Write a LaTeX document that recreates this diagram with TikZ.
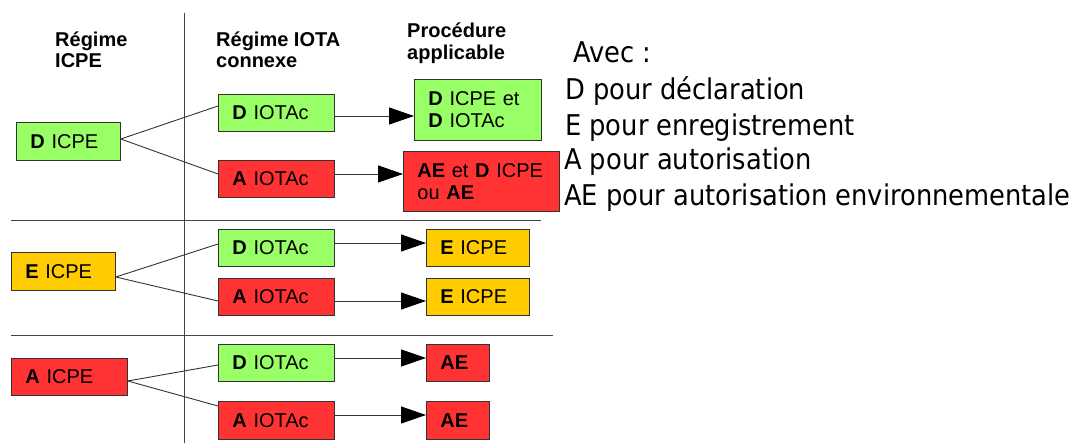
\documentclass[tikz,border=0pt]{standalone}
\usepackage{fontspec}
\setmainfont{Liberation Sans}
\newfontfamily\legendfont[FakeStretch=0.9]{DejaVu Sans}
\usetikzlibrary{arrows.meta}
\definecolor{boxgreen}{HTML}{99FF66}
\definecolor{boxred}{HTML}{FF3333}
\definecolor{boxyellow}{HTML}{FFCC00}
\definecolor{edgecol}{HTML}{333333}
\definecolor{rulecol}{HTML}{444444}
\tikzset{
  box/.style={draw=edgecol, line width=0.8pt, anchor=north west, inner xsep=14pt,
    inner ysep=0pt, align=left, font=\fontsize{20}{22}\selectfont},
  bsize/.style n args={3}{minimum width=#1pt, minimum height=#2pt, text width=#3pt},
  green/.style={fill=boxgreen},
  red/.style={fill=boxred},
  yellow/.style={fill=boxyellow},
  link/.style={draw=edgecol, line width=0.9pt},
  flow/.style={draw=edgecol, line width=0.9pt, -{Triangle[length=25pt,width=17pt,fill=black,color=black]}},
  rule/.style={draw=rulecol, line width=1pt},
  head/.style={anchor=base west, inner sep=0pt, font=\fontsize{20}{21}\selectfont\bfseries},
  legend/.style={anchor=base west, inner sep=0pt, font=\legendfont\fontsize{28.6}{34}\selectfont}
}
\begin{document}
\begin{tikzpicture}[x=1pt,y=-1pt]
\useasboundingbox (0,0) rectangle (1075,443);
% separators
\draw[rule] (184,13) -- (184,443);
\draw[rule] (11,221) -- (541,221);
\draw[rule] (11,335) -- (553,335);
% headers
\node[head] (h1a) at (55,47) {Régime};
\node[head] (h1b) at (55,68) {ICPE};
\node[head] (h2a) at (216,47) {Régime IOTA};
\node[head] (h2b) at (216,68) {connexe};
\node[head] (h3a) at (407,38) {Procédure};
\node[head] (h3b) at (407,60) {applicable};
% row 1
\node[box,green,bsize={104}{38}{76}] (dicpe) at (16,122) {\textbf{D} ICPE};
\node[box,green,bsize={116}{37}{88}] (r1d) at (218,94) {\textbf{D} IOTAc};
\node[box,red,bsize={116}{37}{88}] (r1a) at (218,160) {\textbf{A} IOTAc};
\node[box,green,bsize={127}{61}{99}] (r1do) at (414,79) {\textbf{D} ICPE et\\\textbf{D} IOTAc};
\node[box,red,bsize={156}{60}{128}] (r1ao) at (403,151) {\textbf{AE} et \textbf{D} ICPE\\ou \textbf{AE}};
% row 2
\node[box,yellow,bsize={104}{38}{76}] (eicpe) at (11,252) {\textbf{E} ICPE};
\node[box,green,bsize={116}{37}{88}] (r2d) at (218,229) {\textbf{D} IOTAc};
\node[box,red,bsize={116}{37}{88}] (r2a) at (218,278) {\textbf{A} IOTAc};
\node[box,yellow,bsize={103}{37}{75}] (r2do) at (426,229) {\textbf{E} ICPE};
\node[box,yellow,bsize={103}{37}{75}] (r2ao) at (426,278) {\textbf{E} ICPE};
% row 3
\node[box,red,bsize={116}{37}{88}] (aicpe) at (11,358) {\textbf{A} ICPE};
\node[box,green,bsize={116}{37}{88}] (r3d) at (218,344) {\textbf{D} IOTAc};
\node[box,red,bsize={116}{38}{88}] (r3a) at (218,401) {\textbf{A} IOTAc};
\node[box,red,bsize={63}{37}{35}] (r3do) at (426,344) {\textbf{AE}};
\node[box,red,bsize={63}{38}{35}] (r3ao) at (426,401) {\textbf{AE}};
% links
\draw[link] (dicpe.east |- 0,139) -- (r1d.west |- 0,106);
\draw[link] (dicpe.east |- 0,139) -- (r1a.west |- 0,174);
\draw[link] (eicpe.east |- 0,277) -- (r2d.west |- 0,244);
\draw[link] (eicpe.east |- 0,277) -- (r2a.west |- 0,301);
\draw[link] (aicpe.east |- 0,381) -- (r3d.west |- 0,365);
\draw[link] (aicpe.east |- 0,381) -- (r3a.west |- 0,406);
% arrows
\draw[flow] (r1d.east |- 0,116) -- (r1do.west |- 0,116);
\draw[flow] (r1a.east |- 0,174) -- (r1ao.west |- 0,174);
\draw[flow] (r2d.east |- 0,243) -- (r2do.west |- 0,243);
\draw[flow] (r2a.east |- 0,301) -- (r2ao.west |- 0,301);
\draw[flow] (r3d.east |- 0,358) -- (r3do.west |- 0,358);
\draw[flow] (r3a.east |- 0,415) -- (r3ao.west |- 0,415);
% legend
\node[legend] (l0) at (573,63) {Avec :};
\node[legend] (l1) at (565,100) {D pour déclaration};
\node[legend] (l2) at (565,136) {E pour enregistrement};
\node[legend] (l3) at (564,170) {A pour autorisation};
\node[legend] (l4) at (564,206) {AE pour autorisation environnementale};
\end{tikzpicture}
\end{document}
